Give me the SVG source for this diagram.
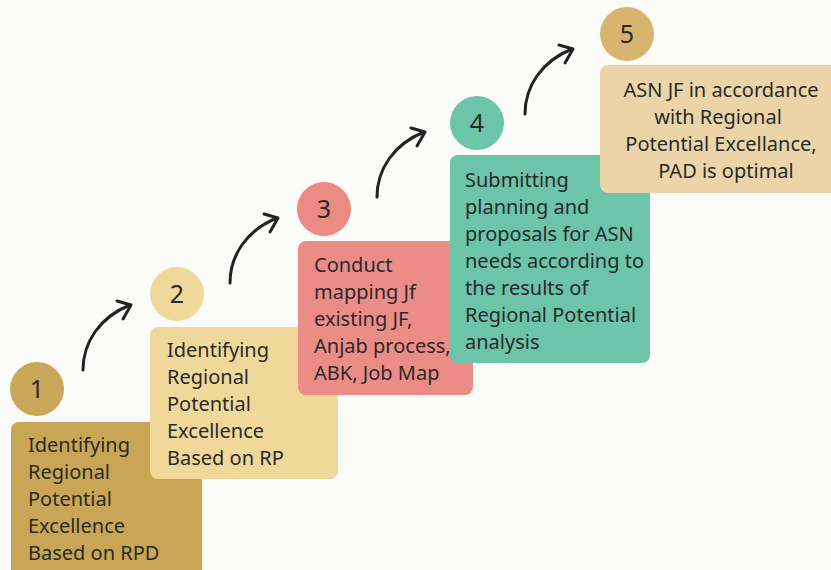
<svg xmlns="http://www.w3.org/2000/svg" width="831" height="570" viewBox="0 0 831 570">
  <style>
    .t { font-family: "Noto Sans", "Open Sans", sans-serif; font-size: 20px; fill: #2a2a2a; }
    .n { font-family: "Noto Sans", "Open Sans", sans-serif; font-size: 25px; fill: #2a2a2a; text-anchor: middle; }
    .arr { fill: none; stroke: #222; stroke-width: 3; stroke-linecap: round; stroke-linejoin: round; }
  </style>
  <defs>
    <g id="arrow">
      <path class="arr" d="M83,370 C83,342 100,317 130,305"/>
      <path class="arr" d="M117,301 L131,305 L123,319"/>
    </g>
  </defs>
  <rect width="831" height="570" fill="#fbfbf9"/>

  <g id="step1">
    <circle cx="37" cy="389" r="27" fill="#c9a85c"/>
    <text class="n" x="37" y="398">1</text>
    <rect x="11" y="422" width="191" height="160" rx="8" fill="#c9a655"/>
    <text class="t" x="28" y="452">Identifying</text>
    <text class="t" x="28" y="479">Regional</text>
    <text class="t" x="28" y="506">Potential</text>
    <text class="t" x="28" y="533">Excellence</text>
    <text class="t" x="28" y="560">Based on RPD</text>
  </g>

  <g id="step2">
    <circle cx="177" cy="294" r="27" fill="#f0d89a"/>
    <text class="n" x="177" y="303">2</text>
    <rect x="150" y="327" width="188" height="152" rx="8" fill="#f0d89a"/>
    <text class="t" x="167" y="357">Identifying</text>
    <text class="t" x="167" y="384">Regional</text>
    <text class="t" x="167" y="411">Potential</text>
    <text class="t" x="167" y="438">Excellence</text>
    <text class="t" x="167" y="465">Based on RP</text>
  </g>

  <g id="step3">
    <circle cx="324" cy="209" r="27" fill="#ec8a84"/>
    <text class="n" x="324" y="218">3</text>
    <rect x="298" y="241" width="175" height="154" rx="8" fill="#ec8c86"/>
    <text class="t" x="314" y="272">Conduct</text>
    <text class="t" x="314" y="299">mapping Jf</text>
    <text class="t" x="314" y="326">existing JF,</text>
    <text class="t" x="314" y="353">Anjab process,</text>
    <text class="t" x="314" y="380">ABK, Job Map</text>
  </g>

  <g id="step4">
    <circle cx="477" cy="123" r="27" fill="#6cc4a9"/>
    <text class="n" x="477" y="132">4</text>
    <rect x="450" y="155" width="200" height="208" rx="8" fill="#6cc4a9"/>
    <text class="t" x="465" y="187">Submitting</text>
    <text class="t" x="465" y="214">planning and</text>
    <text class="t" x="465" y="241">proposals for ASN</text>
    <text class="t" x="465" y="268">needs according to</text>
    <text class="t" x="465" y="295">the results of</text>
    <text class="t" x="465" y="322">Regional Potential</text>
    <text class="t" x="465" y="349">analysis</text>
  </g>

  <g id="step5">
    <circle cx="627" cy="34" r="27" fill="#d7b56f"/>
    <text class="n" x="627" y="43">5</text>
    <rect x="600" y="65" width="240" height="128" rx="8" fill="#ecd4a9"/>
    <text class="t" x="721" y="97" text-anchor="middle">ASN JF in accordance</text>
    <text class="t" x="718" y="124" text-anchor="middle">with Regional</text>
    <text class="t" x="721" y="151" text-anchor="middle">Potential Excellance,</text>
    <text class="t" x="726" y="178" text-anchor="middle">PAD is optimal</text>
  </g>

  <g id="connectors">
    <use href="#arrow"/>
    <use href="#arrow" transform="translate(147,-87)"/>
    <use href="#arrow" transform="translate(294,-173)"/>
    <use href="#arrow" transform="translate(442,-256)"/>
  </g>
</svg>
